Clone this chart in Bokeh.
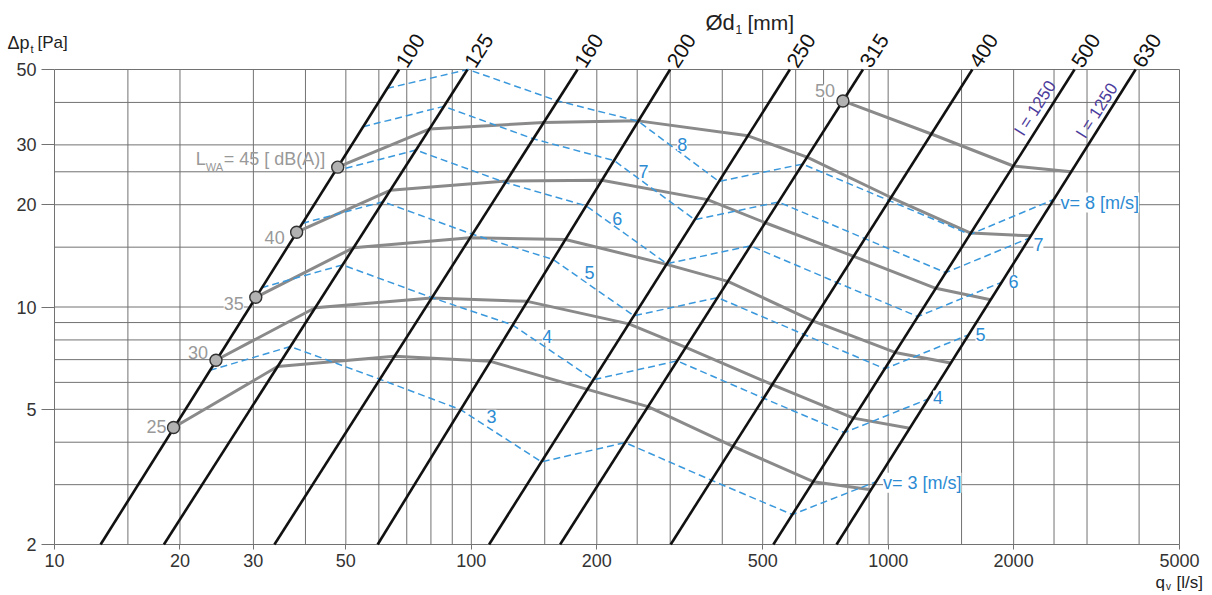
import math
from bokeh.plotting import figure
from bokeh.models import FixedTicker, Label, NumeralTickFormatter
from bokeh.embed import file_html
from bokeh.resources import INLINE

# ---------------- data ----------------
x_ticks = [10, 20, 30, 50, 100, 200, 500, 1000, 2000, 5000]
y_ticks = [2, 5, 10, 20, 30, 50]
x_grid = [10, 15, 20, 30, 40, 50, 60, 70, 80, 90, 100, 150, 200, 250, 300, 400, 500,
          600, 700, 800, 900, 1000, 1500, 2000, 2500, 3000, 4000, 5000]
y_grid = [2, 3, 4, 5, 6, 7, 8, 9, 10, 15, 20, 25, 30, 40, 50]
x_limits = [10, 5000]
y_limits = [2, 50]

diameters = ["100", "125", "160", "200", "250", "315", "400", "500", "630"]
d_q_low = [12.9, 18.3, 33.7, 59.6, 110.3, 163.3, 300.8, 530.4, 752]      # q at dp = 2 Pa
d_q_high = [67.1, 97.9, 179.8, 299.8, 581, 870, 1592, 2800, 3923]        # q at dp = 50 Pa
d_dp_ends = [2, 50]

# velocity lines (v = 3..8 m/s), vertices on each diameter line
v_values = [3, 4, 5, 6, 7, 8]
v3_q = [23.6, 36.8, 60.3, 94.2, 147.3, 233.8, 377, 589, 935]
v3_dp = [6.51, 7.65, 6.13, 4.99, 3.50, 3.99, 3.09, 2.45, 3.06]
v4_q = [31.4, 49.1, 80.4, 125.7, 196.4, 311.7, 502.6, 785.4, 1247]
v4_dp = [11.40, 13.30, 10.66, 8.85, 6.11, 6.94, 5.39, 4.27, 5.36]
v5_q = [39.3, 61.4, 100.6, 157.1, 245.5, 389.7, 628.3, 981.7, 1559]
v5_dp = [17.62, 20.41, 16.37, 13.80, 9.42, 10.66, 8.30, 6.58, 8.28]
v6_q = [47.1, 73.6, 120.7, 188.5, 294.5, 467.6, 754, 1178, 1870]
v6_dp = [25.13, 28.97, 23.24, 19.85, 13.41, 15.14, 11.80, 9.37, 11.82]
v7_q = [55.0, 85.9, 140.8, 219.9, 343.6, 545.5, 879.6, 1374.5, 2182]
v7_dp = [33.92, 38.95, 31.26, 26.98, 18.07, 20.37, 15.89, 12.62, 15.96]
v8_q = [62.8, 98.2, 160.9, 251.4, 392.7, 623.4, 1005.3, 1570.8, 2494]
v8_dp = [44.0, 50.0, 40.43, 35.21, 23.41, 26.34, 20.57, 16.35, 20.71]

# sound power level curves L_WA [dB(A)]
L_values = [25, 30, 35, 40, 45, 50]
L25_q = [19.3, 34.3, 65.4, 111.1, 189.8, 265.3, 424.6, 661, 910]
L25_dp = [4.42, 6.68, 7.16, 6.92, 5.72, 5.09, 3.89, 3.06, 2.90]
L30_q = [24.4, 42.2, 80.3, 136.2, 238.7, 327.0, 527.1, 825.8, 1127]
L30_dp = [6.97, 9.95, 10.63, 10.39, 8.92, 7.61, 5.91, 4.71, 4.40]
L35_q = [30.4, 52.1, 99.3, 168.2, 294.0, 412.6, 659.0, 1039, 1413]
L35_dp = [10.68, 14.93, 15.98, 15.8, 13.35, 11.9, 9.1, 7.35, 6.84]
L40_q = [38.1, 63.9, 121.3, 205.7, 368.6, 507.1, 826.8, 1301, 1761]
L40_dp = [16.6, 22.05, 23.5, 23.6, 20.7, 17.7, 14.1, 11.35, 10.5]
L45_q = [47.8, 79.3, 149.1, 251.7, 460.9, 638.8, 1016, 1578, 2199]
L45_dp = [25.8, 33.4, 34.9, 35.3, 31.9, 27.6, 21.0, 16.5, 16.2]
L50_q = [778.9, 1270, 1997, 2747]
L50_dp = [40.4, 32.3, 26.0, 25.0]

# ---------------- styling / layout ----------------
GRID = "#727272"
BLUE = "#3a98dc"
BLUE_TXT = "#2c8bd3"
GRAY_CURVE = "#8a8a8a"
GRAY_TXT = "#999999"
PURPLE = "#4c3c9c"
DARK = "#222222"
FONT = "Liberation Sans"

W, H = 1210, 593                # whole canvas is the frame
PX_LEFT, PX_RIGHT = 54, 1179    # canvas x of q = 10 and q = 5000
PX_TOP, PX_BOTTOM = 69, 544     # canvas y of dp = 50 and dp = 2

xdec = (PX_RIGHT - PX_LEFT) / math.log10(x_limits[1] / x_limits[0])
ydec = (PX_BOTTOM - PX_TOP) / math.log10(y_limits[1] / y_limits[0])
x_start = 10 ** (math.log10(x_limits[0]) - PX_LEFT / xdec)
x_end = 10 ** (math.log10(x_limits[1]) + (W - PX_RIGHT) / xdec)
y_end = 10 ** (math.log10(y_limits[1]) + PX_TOP / ydec)
y_start = 10 ** (math.log10(y_limits[0]) - (H - PX_BOTTOM) / ydec)


def at(px, py):
    """canvas-pixel position -> data coordinates (annotation placement)"""
    q = 10 ** (math.log10(x_start) + px / xdec)
    dp = 10 ** (math.log10(y_end) - py / ydec)
    return q, dp


p = figure(x_axis_type="log", y_axis_type="log",
           x_range=(x_start, x_end), y_range=(y_start, y_end),
           width=W, height=H, min_border=0,
           output_backend="svg", toolbar_location=None)
p.background_fill_color = "white"
p.border_fill_color = "white"
p.outline_line_color = None
p.grid.visible = False

# grid, limited to the chart area
p.segment(x0=x_grid, x1=x_grid, y0=[y_limits[0]] * len(x_grid), y1=[y_limits[1]] * len(x_grid),
          line_color=GRID, line_width=1)
p.segment(x0=[x_limits[0]] * len(y_grid), x1=[x_limits[1]] * len(y_grid), y0=y_grid, y1=y_grid,
          line_color=GRID, line_width=1)

p.xaxis.ticker = FixedTicker(ticks=x_ticks, minor_ticks=[])
p.yaxis.ticker = FixedTicker(ticks=y_ticks, minor_ticks=[])
p.xaxis.fixed_location = y_limits[0]
p.yaxis.fixed_location = x_limits[0]
p.xaxis.bounds = tuple(x_limits)
p.yaxis.bounds = tuple(y_limits)
p.xaxis.formatter = NumeralTickFormatter(format="0")
p.yaxis.formatter = NumeralTickFormatter(format="0")
p.axis.axis_line_color = None
p.axis.major_tick_line_color = GRID
p.axis.minor_tick_line_color = None
p.axis.major_tick_in = 0
p.xaxis.major_tick_out = 5
p.yaxis.major_tick_out = 13
p.xaxis.major_label_standoff = 4
p.yaxis.major_label_standoff = 5
p.axis.major_label_text_font = FONT
p.axis.major_label_text_font_size = "18px"
p.axis.major_label_text_color = "#333333"

# gray L_WA curves
L_qs = [L25_q, L30_q, L35_q, L40_q, L45_q, L50_q]
L_dps = [L25_dp, L30_dp, L35_dp, L40_dp, L45_dp, L50_dp]
p.multi_line(xs=L_qs, ys=L_dps, line_color=GRAY_CURVE, line_width=3, line_join="round")

# blue dashed velocity lines
v_qs = [v3_q, v4_q, v5_q, v6_q, v7_q, v8_q]
v_dps = [v3_dp, v4_dp, v5_dp, v6_dp, v7_dp, v8_dp]
p.multi_line(xs=v_qs, ys=v_dps, line_color=BLUE, line_width=1.5, line_dash="7 4")

# black diameter lines
p.multi_line(xs=[[lo, hi] for lo, hi in zip(d_q_low, d_q_high)],
             ys=[d_dp_ends for _ in diameters], line_color="#111111", line_width=2.6)

# circles at start of each L_WA curve
p.scatter(x=[c[0] for c in L_qs], y=[c[0] for c in L_dps], size=12, marker="circle",
          fill_color="#b2b2b2", line_color="#333333", line_width=1.4)


def lab(x, y, text, **kw):
    opts = dict(text_font=FONT, text_font_size="18px", text_baseline="middle")
    opts.update(kw)
    p.add_layout(Label(x=x, y=y, text=text, **opts))


# diameter labels
for name, qh in zip(diameters, d_q_high):
    lab(qh, y_limits[1], name, text_font_size="21px", text_color="#111111", text_align="left",
        angle=57.4, angle_units="deg", x_offset=2, y_offset=4)

# L_WA labels
db_off = {25: (-7, 1), 30: (-8, 8), 35: (-12, -6), 40: (-12, -5), 50: (-8, 10)}
for Lv, qs, dps in zip(L_values, L_qs, L_dps):
    if Lv == 45:
        lab(qs[0], dps[0], "L", text_color=GRAY_TXT, text_align="left", x_offset=-142, y_offset=8)
        lab(qs[0], dps[0], "WA", text_color=GRAY_TXT, text_align="left", text_font_size="11px",
            x_offset=-132, y_offset=0)
        lab(qs[0], dps[0], "= 45 [  dB(A)]", text_color=GRAY_TXT, text_align="left",
            x_offset=-114, y_offset=8)
    else:
        dx, dy = db_off[Lv]
        lab(qs[0], dps[0], str(Lv), text_color=GRAY_TXT, text_align="right",
            x_offset=dx, y_offset=dy, background_fill_color="white")

# velocity labels at the end of each line
end_txt = {3: "v= 3 [m/s]", 4: "4", 5: "5", 6: "6", 7: "7", 8: "v= 8 [m/s]"}
end_off = {3: (7, -1), 4: (5, 2), 5: (7, 0), 6: (7, 1), 7: (4, -6), 8: (7, -3)}
for v, qs, dps in zip(v_values, v_qs, v_dps):
    dx, dy = end_off[v]
    lab(qs[-1], dps[-1], end_txt[v], text_color=BLUE_TXT, text_align="left",
        x_offset=dx, y_offset=dy, background_fill_color="white")

# velocity labels in the middle of the lines
mid_px = {3: (491, 415.7), 4: (546.7, 335.5), 5: (589, 271.5), 6: (616.7, 217.5),
          7: (643, 170.5), 8: (681.7, 144)}
for v in v_values:
    qx, dy_ = at(*mid_px[v])
    lab(qx, dy_, str(v), text_color=BLUE_TXT, text_align="center",
        background_fill_color="white")

# l = 1250 labels
for (px, py) in [(1035, 107.5), (1096.7, 110)]:
    qx, dy_ = at(px, py)
    lab(qx, dy_, "l = 1250", text_color=PURPLE, text_align="center", text_font_size="17px",
        angle=57.4, angle_units="deg")

# axis titles
qx, dy_ = at(7, 42)
lab(qx, dy_, "Δp", text_color=DARK, text_align="left", text_font_size="18px")
qx, dy_ = at(30, 48)
lab(qx, dy_, "t", text_color=DARK, text_align="left", text_font_size="11px")
qx, dy_ = at(37, 42)
lab(qx, dy_, "[Pa]", text_color=DARK, text_align="left", text_font_size="17px")

qx, dy_ = at(705, 22)
lab(qx, dy_, "Ød", text_color=DARK, text_align="left", text_font_size="22px")
qx, dy_ = at(735, 29)
lab(qx, dy_, "1", text_color=DARK, text_align="left", text_font_size="12px")
qx, dy_ = at(747, 22)
lab(qx, dy_, "[mm]", text_color=DARK, text_align="left", text_font_size="21px")

qx, dy_ = at(1155, 582)
lab(qx, dy_, "q", text_color=DARK, text_align="left", text_font_size="17px")
qx, dy_ = at(1165.5, 586)
lab(qx, dy_, "v", text_color=DARK, text_align="left", text_font_size="10px")
qx, dy_ = at(1176, 582)
lab(qx, dy_, "[l/s]", text_color=DARK, text_align="left", text_font_size="17px")

open("out.html", "w").write(file_html(p, INLINE))
